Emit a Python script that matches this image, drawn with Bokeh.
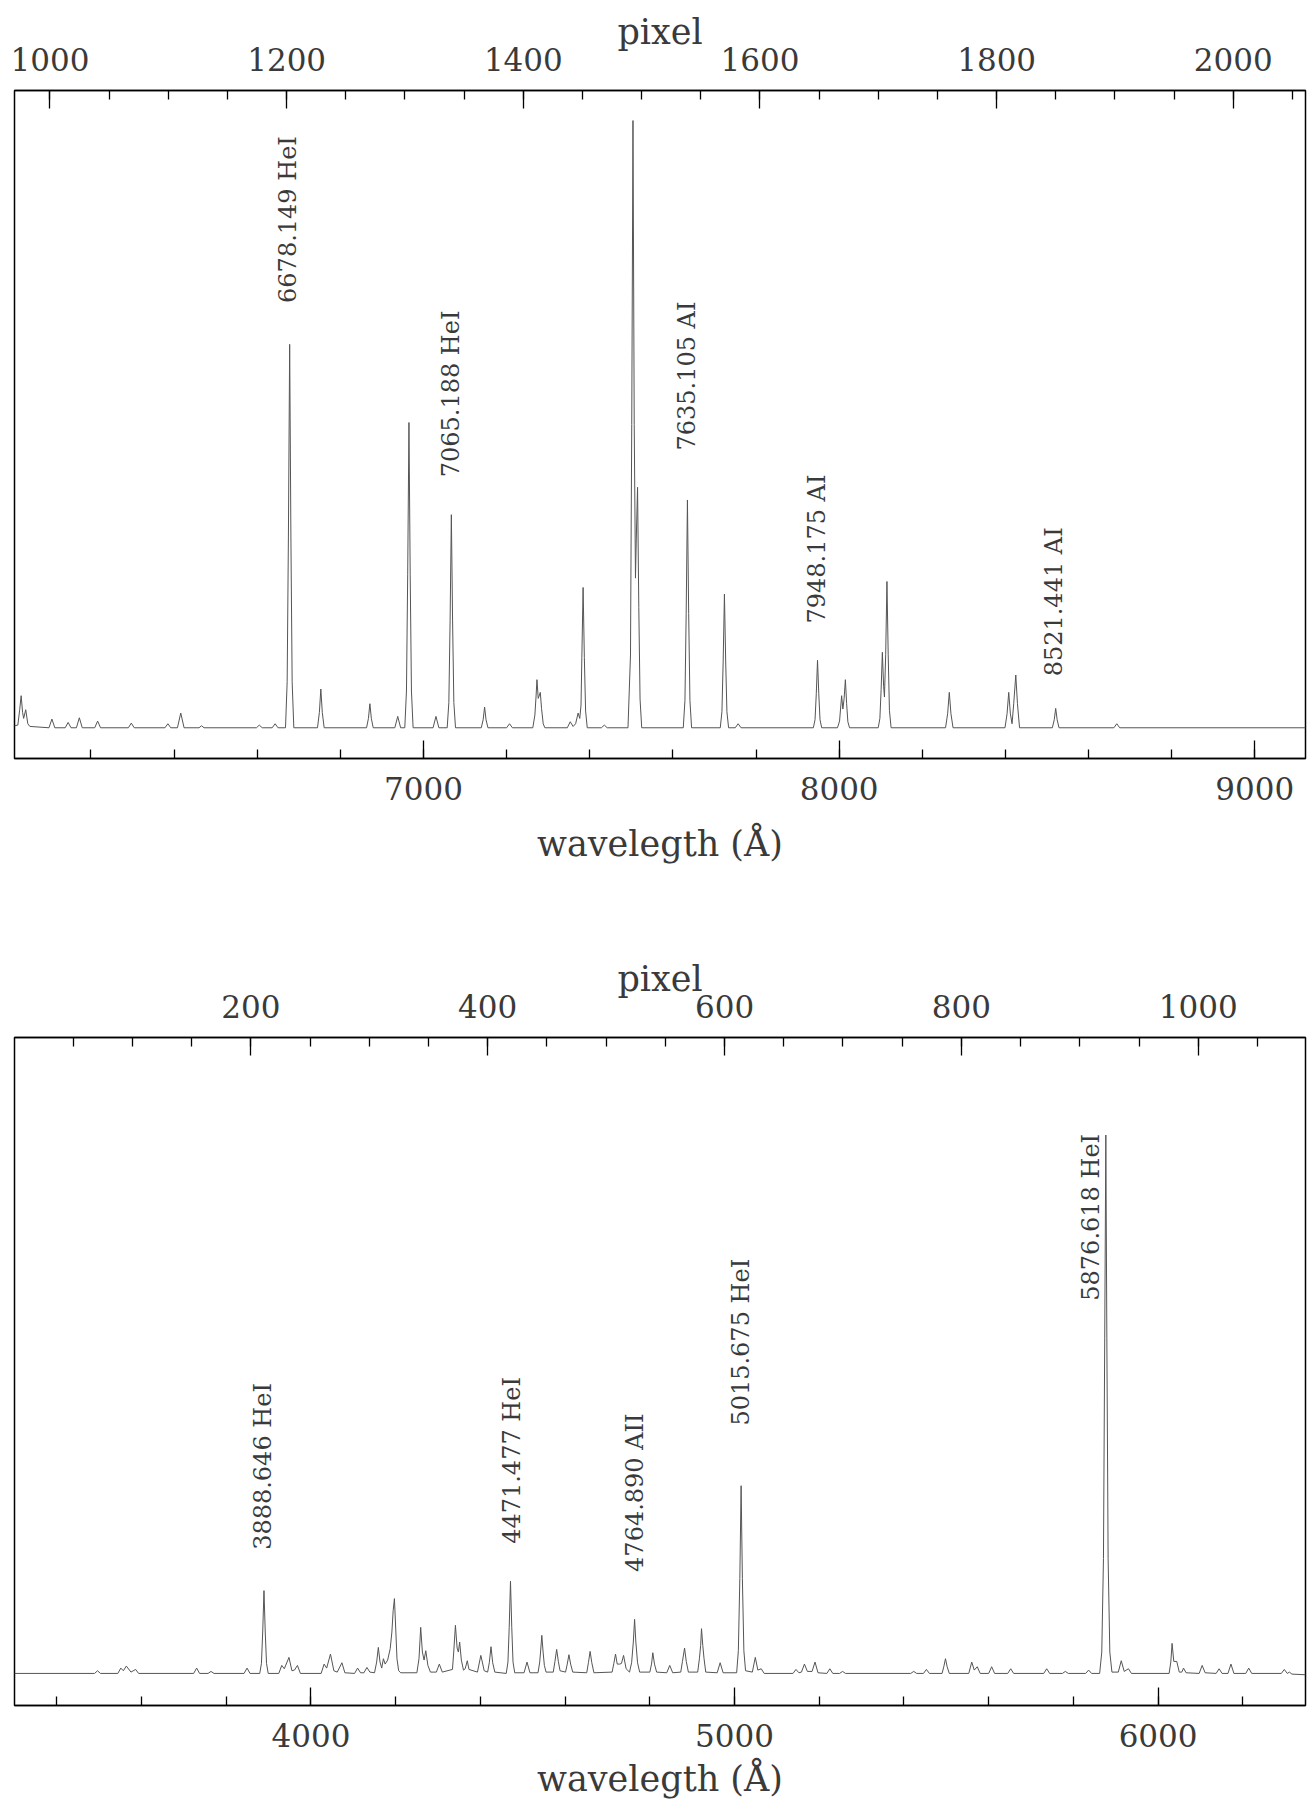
import numpy as np
from bokeh.plotting import figure
from bokeh.models import Range1d, LinearAxis, SingleIntervalTicker
from bokeh.layouts import column
from bokeh.embed import file_html
from bokeh.resources import INLINE
from bokeh.core.properties import value

# ---------------- data: red arm (top panel) ----------------
red_wave = [6016, 6024, 6028.5, 6032, 6035.5, 6038, 6043, 6048, 6053,
            6099, 6106, 6113, 6138, 6145, 6152, 6165, 6172, 6179, 6209, 6216, 6223,
            6290, 6297, 6304, 6378, 6385, 6392, 6408, 6416, 6424, 6460, 6466, 6472,
            6598, 6605, 6612, 6636, 6643, 6650,
            6668, 6672, 6675, 6678, 6681, 6684, 6688,
            6745, 6749.5, 6753, 6756.5, 6761,
            6863, 6867.5, 6871, 6874.5, 6879,
            6931, 6938, 6945,
            6955, 6959, 6962, 6965, 6968, 6971, 6975,
            7023, 7030, 7037,
            7057, 7061, 7064, 7067, 7070, 7073, 7077,
            7139, 7143.5, 7147, 7150.5, 7155,
            7200, 7207, 7214,
            7263, 7268, 7271, 7273, 7276, 7279, 7281, 7284, 7288, 7292,
            7346, 7353, 7360, 7366, 7372, 7376, 7379, 7381, 7384, 7387, 7390, 7394,
            7428, 7435, 7442,
            7492, 7498, 7501, 7504, 7507, 7510, 7512, 7515, 7518, 7521, 7525,
            7625, 7629, 7632, 7635, 7638, 7641, 7645,
            7714, 7718, 7721, 7724, 7727, 7730, 7734,
            7750, 7757, 7764,
            7938, 7942, 7945, 7948, 7951, 7954, 7958,
            7996, 8001, 8006, 8009, 8012, 8015, 8018, 8021, 8025,
            8094, 8098, 8101, 8104, 8107, 8109, 8112, 8115, 8118, 8121, 8125,
            8256, 8261, 8265, 8269, 8274,
            8399, 8404, 8408, 8412, 8416, 8420, 8425, 8429, 8434,
            8513, 8517.5, 8521, 8524.5, 8529,
            8661, 8668, 8675,
            9122]
red_flux = [4.9, 5.0, 7.3, 9.4, 6.9, 6.0, 7.3, 5.2, 4.8,
            4.6, 5.9, 4.6, 4.6, 5.4, 4.6, 4.6, 6.1, 4.6, 4.6, 5.6, 4.6,
            4.6, 5.3, 4.6, 4.6, 5.2, 4.6, 4.6, 6.8, 4.6, 4.6, 4.9, 4.6,
            4.6, 5.0, 4.6, 4.6, 5.2, 4.6,
            4.6, 11.5, 33.3, 62.0, 33.3, 11.5, 4.6,
            4.6, 6.9, 10.4, 6.9, 4.6,
            4.6, 6.0, 8.2, 6.0, 4.6,
            4.6, 6.3, 4.6,
            4.6, 10.1, 27.5, 50.3, 27.5, 10.1, 4.6,
            4.6, 6.3, 4.6,
            4.6, 8.4, 20.6, 36.5, 20.6, 8.4, 4.6,
            4.6, 5.8, 7.7, 5.8, 4.6,
            4.6, 5.2, 4.6,
            4.6, 6.5, 9.5, 11.8, 9.0, 9.5, 9.9, 7.5, 5.2, 4.6,
            4.6, 5.5, 4.8, 5.2, 6.8, 6.0, 8.0, 15.1, 25.6, 15.1, 7.1, 4.6,
            4.6, 5.0, 4.6,
            4.6, 15.5, 50.0, 95.5, 50.0, 27.0, 33.0, 40.6, 22.6, 8.9, 4.6,
            4.6, 8.7, 21.7, 38.7, 21.7, 8.7, 4.6,
            4.6, 7.0, 14.6, 24.6, 14.6, 7.0, 4.6,
            4.6, 5.2, 4.6,
            4.6, 5.8, 9.7, 14.7, 9.7, 5.8, 4.6,
            4.6, 5.6, 9.4, 7.4, 9.0, 11.8, 8.2, 5.5, 4.6,
            4.6, 6.0, 10.3, 15.9, 10.8, 9.2, 15.6, 26.5, 15.6, 7.2, 4.6,
            4.6, 6.7, 9.9, 6.7, 4.6,
            4.6, 6.7, 9.9, 6.7, 5.2, 8.2, 12.5, 8.2, 4.6,
            4.6, 5.8, 7.5, 5.8, 4.6,
            4.6, 5.2, 4.6,
            4.6]
red_labels = ["6678.149 HeI", "7065.188 HeI", "7635.105 AI", "7948.175 AI", "8521.441 AI"]
red_label_x = [6675, 7065, 7634, 7947, 8516]
red_label_y = [68.2, 42.1, 46.1, 20.2, 12.3]
red_wave_range = (6016, 9122)
red_pixel_range = (970, 2061)

# ---------------- data: blue arm (bottom panel) ----------------
blue_wave = [3300,
             3489, 3496, 3503, 3544, 3551, 3557, 3564, 3575, 3586, 3593,
             3723, 3730, 3737, 3757, 3764, 3771, 3842, 3849, 3856,
             3879, 3883, 3886, 3889, 3892, 3895, 3899,
             3924, 3931, 3937, 3948, 3955, 3961, 3968, 3975,
             4024, 4031, 4037, 4046, 4054, 4062, 4073, 4080,
             4103, 4110, 4117, 4125, 4132, 4139,
             4150, 4155, 4159, 4163, 4167, 4171, 4175, 4181, 4187, 4191, 4194, 4197, 4200, 4203, 4207, 4212,
             4250, 4255, 4259, 4263, 4267, 4271, 4276, 4282,
             4296, 4303, 4310,
             4334, 4337, 4341, 4345, 4348, 4351, 4355, 4360, 4364, 4369, 4373,
             4393, 4401, 4409, 4417, 4421, 4425, 4429, 4434,
             4461, 4465, 4468, 4471, 4474, 4477, 4481,
             4503, 4510, 4517,
             4536, 4540, 4542, 4545, 4548, 4551, 4555,
             4572, 4576, 4580, 4584, 4588,
             4601, 4605, 4609, 4613, 4618,
             4651, 4655, 4659, 4663, 4668,
             4711, 4715, 4719, 4723, 4729, 4733, 4738, 4744,
             4752, 4757, 4761, 4764, 4767, 4771, 4776,
             4800, 4804, 4807, 4811, 4816,
             4840, 4847, 4854,
             4873, 4877, 4882, 4886, 4891,
             4913, 4917, 4920, 4922, 4925, 4928, 4932,
             4959, 4966, 4973,
             5005, 5009, 5012.5, 5015.5, 5018.5, 5022, 5026,
             5042, 5049, 5055, 5063, 5070,
             5138, 5145, 5152, 5158, 5165, 5172, 5183, 5190, 5197,
             5218, 5225, 5232, 5248, 5255, 5262,
             5416, 5423, 5430, 5446, 5453, 5460,
             5490, 5494, 5498, 5502, 5507,
             5553, 5560, 5566, 5573, 5580,
             5600, 5607, 5614, 5645, 5652, 5659,
             5730, 5737, 5744, 5774, 5781, 5788, 5829, 5836, 5843,
             5862, 5867, 5871, 5874, 5876.6, 5879, 5882, 5886, 5891,
             5906, 5913, 5920, 5930, 5937,
             6026, 6030, 6033, 6037, 6044, 6050, 6056, 6060, 6066,
             6097, 6104, 6111, 6137, 6144, 6151, 6165, 6172, 6179,
             6207, 6214, 6221, 6291, 6298, 6305, 6310, 6316,
             6348]
blue_flux = [4.8,
             4.8, 5.2, 4.8, 4.8, 5.6, 5.2, 5.9, 5.0, 5.4, 4.8,
             4.8, 5.6, 4.8, 4.8, 5.1, 4.8, 4.8, 5.6, 4.8,
             4.8, 6.3, 11.0, 17.2, 11.0, 6.3, 4.8,
             4.8, 6.0, 5.5, 7.2, 5.2, 5.3, 6.0, 4.8,
             4.8, 6.2, 5.6, 7.7, 5.2, 5.0, 6.4, 4.9,
             4.8, 5.6, 4.9, 4.9, 5.7, 5.0,
             4.9, 6.5, 8.7, 6.5, 5.6, 7.0, 6.2, 6.8, 8.5, 11.0, 14.2, 16.0, 11.6, 7.0, 5.2, 4.9,
             4.9, 7.0, 11.7, 8.0, 6.8, 8.2, 6.0, 5.0,
             5.0, 6.2, 5.0,
             5.4, 8.0, 12.0, 8.6, 8.0, 9.5, 6.8, 5.3, 5.5, 6.7, 5.4,
             5.0, 7.5, 5.2, 5.0, 6.4, 8.8, 6.4, 5.0,
             4.8, 6.5, 11.7, 18.6, 11.7, 6.5, 4.9,
             4.9, 6.5, 4.9,
             4.9, 6.5, 8.0, 10.5, 8.0, 6.0, 5.0,
             5.0, 6.6, 8.4, 6.6, 5.2,
             5.0, 6.2, 7.6, 6.2, 5.0,
             4.9, 6.4, 8.1, 6.4, 4.9,
             5.0, 6.3, 7.7, 6.2, 6.2, 6.3, 7.5, 5.5,
             5.0, 6.4, 9.5, 12.9, 9.5, 6.4, 5.0,
             5.0, 6.2, 7.9, 6.2, 5.0,
             4.9, 6.0, 4.9,
             5.0, 6.6, 8.6, 6.6, 5.0,
             5.0, 7.0, 9.0, 11.5, 9.0, 7.0, 5.0,
             4.9, 6.4, 4.9,
             4.9, 8.2, 19.0, 32.9, 19.0, 8.2, 5.2,
             5.0, 7.2, 5.3, 5.5, 4.8,
             4.8, 5.4, 4.9, 5.0, 6.2, 5.1, 5.1, 6.5, 4.9,
             4.8, 5.5, 4.8, 4.8, 5.1, 4.8,
             4.8, 5.1, 4.8, 4.8, 5.4, 4.8,
             4.8, 5.8, 7.0, 5.8, 4.8,
             4.8, 6.5, 5.3, 5.8, 4.8,
             4.8, 5.8, 4.8, 4.8, 5.5, 4.8,
             4.8, 5.5, 4.8, 4.8, 5.1, 4.8, 4.8, 5.3, 4.8,
             4.8, 8.0, 22.0, 55.0, 85.4, 55.0, 22.0, 8.0, 5.0,
             5.0, 6.7, 5.1, 5.5, 4.8,
             4.8, 6.5, 9.3, 6.6, 6.6, 5.0, 5.0, 5.6, 4.9,
             4.8, 6.0, 4.9, 4.8, 5.5, 4.8, 4.8, 6.2, 4.8,
             4.8, 5.6, 4.8, 4.8, 5.4, 4.8, 5.0, 4.7,
             4.6]
blue_labels = ["3888.646 HeI", "4471.477 HeI", "4764.890 AII", "5015.675 HeI", "5876.618 HeI"]
blue_label_x = [3886, 4474, 4764, 5015, 5842]
blue_label_y = [23.3, 24.2, 20.0, 41.9, 60.6]
blue_wave_range = (3300, 6348)
blue_pixel_range = (0.5, 1090.5)

FONT = "DejaVu Serif"
TXT = "#3a3a3a"


def style_axis(ax, interval, minor, label, st, ls):
    ax.ticker = SingleIntervalTicker(interval=interval, num_minor_ticks=minor)
    ax.major_tick_in = 18
    ax.major_tick_out = 0
    ax.minor_tick_in = 9
    ax.minor_tick_out = 0
    ax.major_tick_line_width = 1.3
    ax.minor_tick_line_width = 1.3
    ax.major_tick_line_color = "black"
    ax.minor_tick_line_color = "black"
    ax.axis_line_color = "black"
    ax.axis_line_width = 1.5
    ax.major_label_text_font = FONT
    ax.major_label_text_font_size = "31px"
    ax.major_label_text_color = TXT
    ax.major_label_standoff = st
    ax.axis_label = label
    ax.axis_label_text_font = FONT
    ax.axis_label_text_font_size = "35px"
    ax.axis_label_text_font_style = "normal"
    ax.axis_label_text_color = TXT
    ax.axis_label_standoff = ls


def panel(wave, flux, wrange, prange, labels, lx, ly, height, top, bottom, bot_ls):
    p = figure(width=1309, height=height,
               x_range=Range1d(*wrange), y_range=Range1d(0, 100),
               output_backend="svg", toolbar_location=None,
               y_axis_location=None,
               min_border_left=14, min_border_right=4,
               min_border_top=top, min_border_bottom=bottom)
    p.grid.visible = False
    p.outline_line_color = "black"
    p.outline_line_width = 1.5
    p.background_fill_color = "white"
    p.border_fill_color = "white"
    style_axis(p.xaxis[0], 1000, 5, "wavelegth (Å)", 18, bot_ls)
    p.extra_x_ranges = {"pix": Range1d(*prange)}
    top_ax = LinearAxis(x_range_name="pix")
    style_axis(top_ax, 200, 4, "pixel", 20, -7)
    p.add_layout(top_ax, "above")
    p.line(wave, flux, line_color="#555555", line_width=1)
    p.text(x=lx, y=ly, text=labels, angle=np.pi / 2,
           text_align="left", text_baseline="middle",
           text_font=value(FONT), text_font_size="24px", text_color=TXT)
    return p


p1 = panel(red_wave, red_flux, red_wave_range, red_pixel_range,
           red_labels, red_label_x, red_label_y, 947, 90, 189, 21)
p2 = panel(blue_wave, blue_flux, blue_wave_range, blue_pixel_range,
           blue_labels, blue_label_x, blue_label_y, 862, 90, 104, 9)

layout = column(p1, p2, spacing=0)
open("out.html", "w").write(file_html(layout, INLINE))
